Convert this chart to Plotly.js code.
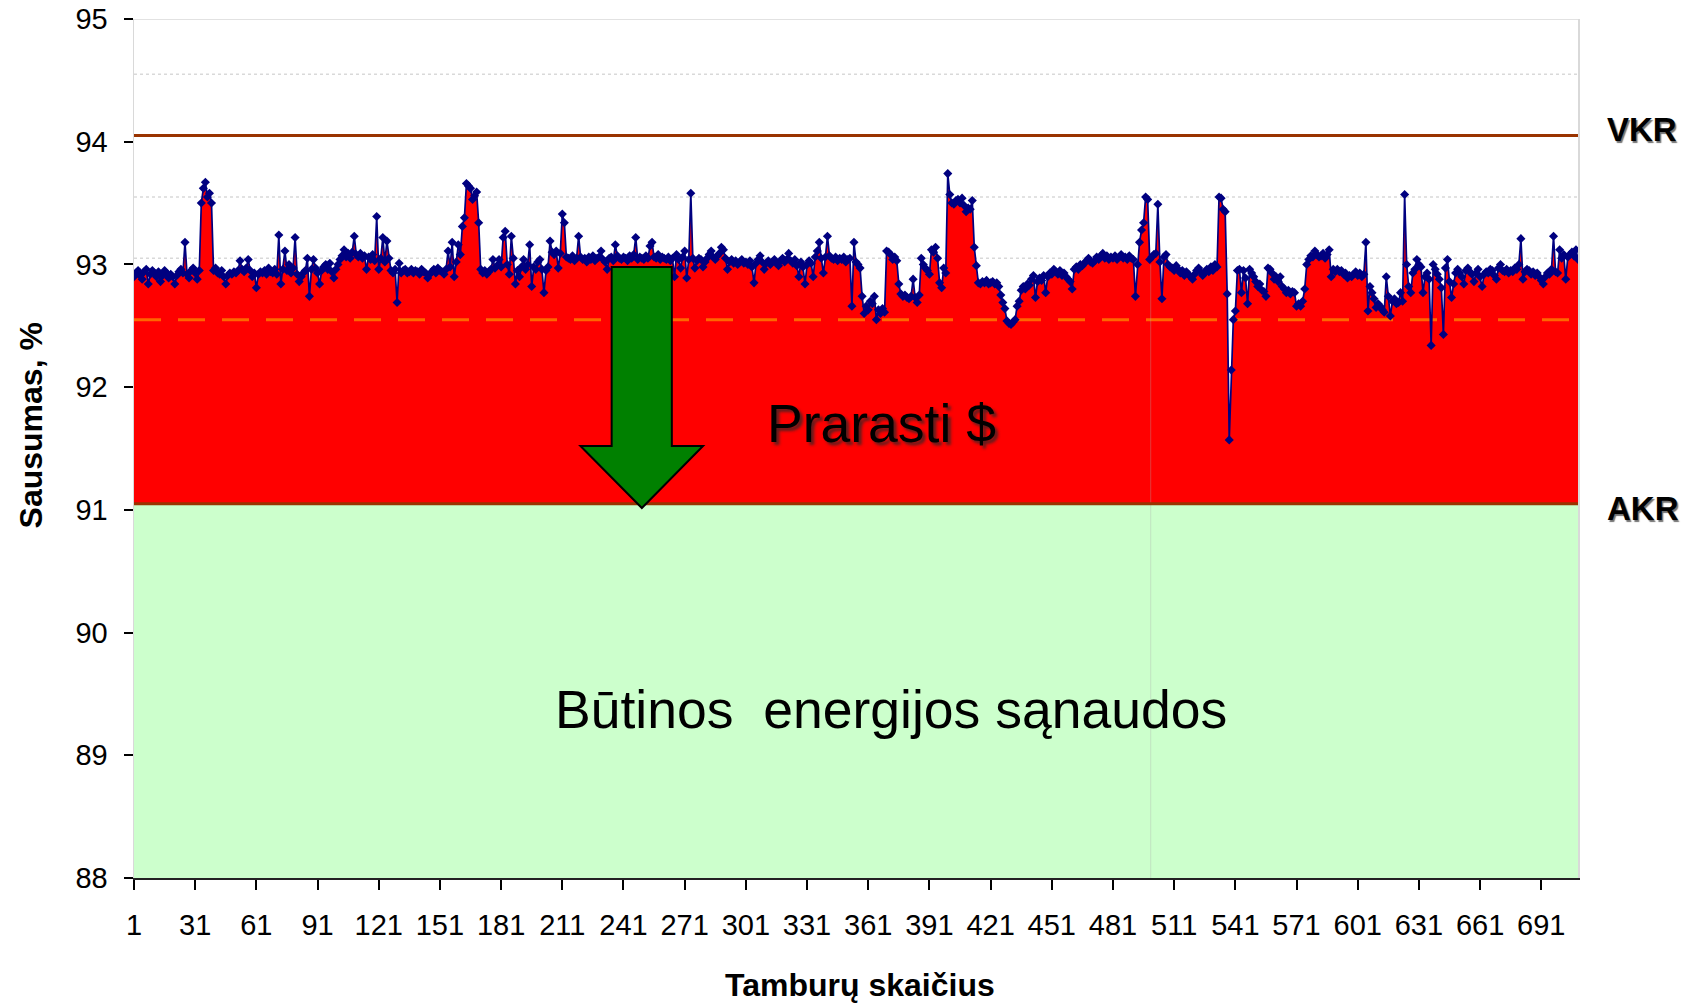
<!DOCTYPE html>
<html>
<head>
<meta charset="utf-8">
<script src="https://cdn.plot.ly/plotly-3.0.1.min.js"></script>
<style>
  html, body { margin: 0; padding: 0; background: #ffffff; }
  #chart { width: 1686px; height: 1005px; }
</style>
</head>
<body>
<div id="chart"></div>
<script>
// ---- data ----
var sausumas = [
  92.90, 92.93, 92.95, 92.91, 92.88, 92.94, 92.96, 92.84, 92.92, 92.95,
  92.93, 92.90, 92.94, 92.86, 92.91, 92.95, 92.93, 92.89, 92.92, 92.90,
  92.84, 92.91, 92.94, 92.96, 92.93, 93.18, 92.92, 92.89, 92.95, 92.97,
  92.93, 92.88, 92.95, 93.50, 93.62, 93.67, 93.55, 93.58, 93.50, 92.95,
  92.97, 92.93, 92.92, 92.95, 92.90, 92.84, 92.91, 92.93, 92.92, 92.94,
  92.93, 92.95, 93.03, 92.96, 92.94, 92.97, 93.04, 92.95, 92.90, 92.93,
  92.81, 92.92, 92.94, 92.93, 92.95, 92.92, 92.97, 92.94, 92.93, 92.96,
  92.92, 93.24, 92.84, 92.96, 93.11, 92.95, 93.00, 92.93, 92.97, 93.22,
  92.92, 92.86, 92.90, 92.93, 92.95, 93.05, 92.74, 92.96, 93.04, 92.97,
  92.93, 92.84, 92.95, 92.98, 93.00, 92.96, 93.01, 92.94, 92.89, 92.96,
  93.00, 93.04, 93.07, 93.12, 93.06, 93.09, 93.05, 93.10, 93.23, 93.08,
  93.06, 93.09, 93.05, 93.07, 92.96, 93.06, 93.04, 93.08, 93.03, 93.39,
  92.96, 93.05, 93.22, 93.02, 93.19, 93.05, 92.95, 92.93, 92.96, 92.69,
  93.01, 92.93, 92.95, 92.96, 92.93, 92.94, 92.96, 92.93, 92.95, 92.94,
  92.92, 92.96, 92.94, 92.93, 92.89, 92.92, 92.94, 92.96, 92.93, 92.97,
  92.95, 92.94, 92.92, 92.96, 93.11, 92.98, 93.18, 92.90, 93.02, 93.16,
  93.08, 93.31, 93.38, 93.66, 93.64, 93.62, 93.53, 93.56, 93.59, 93.34,
  92.96, 92.93, 92.95, 92.92, 92.94, 92.96, 93.04, 92.97, 92.99, 93.04,
  92.98, 93.22, 93.27, 93.00, 92.92, 93.23, 93.05, 92.84, 92.95, 92.90,
  92.98, 93.04, 92.96, 93.00, 93.16, 92.82, 92.98, 92.96, 93.02, 93.04,
  92.96, 92.77, 92.95, 92.98, 93.19, 93.10, 93.08, 93.11, 92.97, 93.09,
  93.41, 93.34, 93.06, 93.05, 93.04, 93.07, 93.03, 93.05, 93.23, 93.06,
  93.04, 93.05, 93.02, 93.06, 93.04, 93.07, 93.03, 93.05, 93.06, 93.11,
  93.04, 93.02, 92.96, 93.05, 93.06, 93.03, 93.16, 93.07, 93.05, 93.04,
  93.06, 93.05, 93.03, 93.07, 93.05, 93.08, 93.22, 93.04, 93.06, 93.05,
  93.04, 93.07, 93.05, 93.15, 93.18, 93.06, 93.05, 93.08, 93.04, 93.06,
  93.05, 93.04, 93.06, 93.03, 93.05, 92.90, 93.08, 93.04, 92.97, 93.06,
  93.11, 92.89, 93.04, 93.58, 93.05, 92.97, 93.03, 93.05, 93.04, 92.98,
  93.02, 93.05, 93.08, 93.11, 93.06, 93.04, 93.07, 93.09, 93.14, 93.12,
  93.05, 92.96, 93.02, 93.04, 93.01, 93.03, 93.00, 93.02, 93.04, 93.01,
  93.02, 93.00, 93.03, 92.98, 92.85, 93.01, 93.04, 93.07, 93.02, 92.96,
  93.01, 93.03, 93.00, 93.02, 93.04, 93.01, 92.99, 93.03, 93.05, 93.02,
  93.04, 93.09, 93.03, 93.01, 93.04, 92.99, 92.90, 93.02, 92.98, 92.84,
  93.00, 93.03, 93.01, 92.90, 93.06, 93.11, 93.18, 93.05, 92.93, 93.06,
  93.23, 93.07, 93.05, 93.04, 93.06, 93.03, 93.05, 93.04, 93.06, 93.02,
  93.04, 93.05, 92.66, 93.18, 93.02, 93.00, 92.97, 92.74, 92.60, 92.66,
  92.63, 92.70, 92.68, 92.74, 92.55, 92.63, 92.60, 92.64, 92.61, 93.11,
  93.10, 93.08, 93.04, 93.06, 93.03, 92.84, 92.76, 92.74, 92.75, 92.73,
  92.72, 92.74, 92.88, 92.73, 92.69, 92.75, 93.05, 93.00, 92.97, 92.95,
  92.92, 93.12, 93.10, 93.14, 93.05, 92.85, 92.81, 92.97, 92.93, 93.74,
  93.57, 93.50, 93.49, 93.52, 93.53, 93.50, 93.54, 93.48, 93.43, 93.46,
  93.45, 93.52, 93.14, 92.99, 92.85, 92.84, 92.86, 92.85, 92.87, 92.84,
  92.85, 92.86, 92.84, 92.85, 92.82, 92.75, 92.69, 92.64, 92.54, 92.52,
  92.51, 92.53, 92.55, 92.66, 92.70, 92.79, 92.82, 92.80, 92.84, 92.83,
  92.88, 92.91, 92.73, 92.86, 92.89, 92.87, 92.91, 92.77, 92.90, 92.93,
  92.92, 92.96, 92.94, 92.92, 92.95, 92.91, 92.93, 92.90, 92.88, 92.86,
  92.80, 92.96, 92.98, 92.96, 93.00, 92.99, 93.01, 93.03, 93.05, 93.02,
  93.01, 93.03, 93.06, 93.04, 93.07, 93.09, 93.05, 93.07, 93.04, 93.06,
  93.05, 93.07, 93.04, 93.06, 93.08, 93.05, 93.06, 93.04, 93.07, 93.05,
  93.04, 92.74, 93.00, 93.18, 93.28, 93.34, 93.55, 93.53, 93.04, 93.06,
  93.08, 93.09, 93.49, 93.02, 92.72, 93.06, 93.08, 93.00, 92.98, 92.97,
  92.95, 92.99, 92.96, 92.93, 92.95, 92.91, 92.94, 92.92, 92.90, 92.88,
  92.92, 92.95, 92.97, 92.94, 92.91, 92.93, 92.96, 92.94, 92.98, 92.95,
  93.00, 92.98, 93.55, 93.54, 93.45, 93.43, 92.76, 91.57, 92.14, 92.55,
  92.62, 92.95, 92.96, 92.77, 92.95, 92.89, 92.68, 92.96, 92.93, 92.90,
  92.86, 92.82, 92.84, 92.79, 92.78, 92.74, 92.97, 92.96, 92.93, 92.88,
  92.90, 92.86, 92.90, 92.82, 92.80, 92.77, 92.79, 92.76, 92.78, 92.77,
  92.66, 92.68, 92.66, 92.70, 92.80, 93.00, 93.04, 93.07, 93.06, 93.11,
  93.08, 93.06, 93.07, 93.09, 93.05, 93.08, 93.12, 92.90, 92.96, 92.94,
  92.96, 92.94, 92.95, 92.92, 92.93, 92.89, 92.91, 92.90, 92.92, 92.94,
  92.91, 92.93, 92.90, 92.92, 93.18, 92.62, 92.82, 92.77, 92.72, 92.65,
  92.68, 92.66, 92.63, 92.61, 92.90, 92.74, 92.58, 92.70, 92.72, 92.68,
  92.69, 92.77, 92.70, 93.57, 93.00, 92.82, 92.77, 92.93, 92.96, 93.04,
  93.00, 92.98, 92.77, 92.90, 92.93, 92.88, 92.34, 93.00, 92.96, 92.92,
  92.88, 92.81, 92.43, 92.97, 93.04, 92.86, 92.73, 92.84, 92.93, 92.96,
  92.93, 92.90, 92.84, 92.95, 92.97, 92.94, 92.92, 92.86, 92.93, 92.96,
  92.90, 92.82, 92.92, 92.94, 92.93, 92.96, 92.95, 92.91, 92.88, 92.97,
  93.00, 92.95, 92.94, 92.96, 92.93, 92.95, 92.94, 92.97, 92.96, 93.00,
  93.21, 92.88, 92.94, 92.96, 92.95, 92.92, 92.94, 92.91, 92.93, 92.90,
  92.87, 92.84, 92.90, 92.93, 92.92, 92.96, 93.23, 92.94, 92.93, 93.12,
  93.05, 93.08, 92.88, 93.06, 93.08, 93.10, 93.07, 93.12, 93.04
];
var xTickLabels = [1, 31, 61, 91, 121, 151, 181, 211, 241, 271, 301, 331, 361, 391, 421, 451, 481, 511, 541, 571, 601, 631, 661, 691];
var yTickLabels = [88, 89, 90, 91, 92, 93, 94, 95];
var limitVKR = 94.05;
var limitAKR = 91.05;
var targetLine = 92.55;
var gridLevels = [94.55, 93.55, 93.05];
// green arrow outline (x = tambūro nr., y = sausumas)
var arrowX = [235.2, 264.7, 264.7, 280.0, 250.0, 219.9, 235.2];
var arrowY = [92.98, 92.98, 91.52, 91.52, 91.015, 91.52, 91.52];

// ---- build ----
var tamburai = [];
for (var i = 0; i < sausumas.length; i++) tamburai.push(i + 1);
var xFirst = 1, xLast = sausumas.length;

var FONT = 'Liberation Sans, Arial, Helvetica, sans-serif';

var traces = [
  { // green "required energy" zone under AKR
    x: [xFirst, xLast], y: [limitAKR, limitAKR],
    mode: 'lines', line: {width: 0, color: '#CCFFCC'},
    fill: 'tozeroy', fillcolor: '#CCFFCC', hoverinfo: 'skip', showlegend: false
  },
  { // red "lost money" zone between AKR and measured dryness
    x: tamburai, y: sausumas,
    mode: 'lines', line: {width: 0, color: '#FF0000'},
    fill: 'tonexty', fillcolor: '#FF0000', hoverinfo: 'skip', showlegend: false
  },
  { // orange dashed target line
    x: [xFirst, xLast], y: [targetLine, targetLine],
    mode: 'lines', line: {color: '#FF6600', width: 3, dash: '27px,17px'},
    hoverinfo: 'skip', showlegend: false
  },
  { // measured series
    x: tamburai, y: sausumas,
    mode: 'lines+markers',
    line: {color: '#000080', width: 1.7},
    marker: {symbol: 'diamond', size: 7, color: '#000080', line: {width: 0}},
    showlegend: false
  }
];

var shapes = [];
gridLevels.forEach(function (g) {
  shapes.push({type: 'line', xref: 'x', yref: 'y', x0: xFirst, x1: xLast, y0: g, y1: g,
    line: {color: '#d9d9d9', width: 1.5, dash: 'dot'}, layer: 'below'});
});
shapes.push({type: 'line', xref: 'x', yref: 'y', x0: xFirst, x1: xLast, y0: 95, y1: 95,
  line: {color: '#d9d9d9', width: 1.5}, layer: 'below'});
// faint vertical seam
shapes.push({type: 'line', xref: 'x', yref: 'y', x0: 499.5, x1: 499.5, y0: 88, y1: 93.0,
  line: {color: 'rgba(170,170,170,0.35)', width: 1}, layer: 'above'});
// limit lines
[limitVKR, limitAKR].forEach(function (v) {
  shapes.push({type: 'line', xref: 'x', yref: 'y', x0: xFirst, x1: xLast, y0: v, y1: v,
    line: {color: '#993300', width: 3}, layer: 'above'});
});
// green arrow
var p = 'M ' + arrowX[0] + ',' + arrowY[0];
for (var k = 1; k < arrowX.length; k++) p += ' L ' + arrowX[k] + ',' + arrowY[k];
p += ' Z';
shapes.push({type: 'path', xref: 'x', yref: 'y', path: p,
  fillcolor: '#008000', line: {color: '#000000', width: 2}, layer: 'above'});

var annotations = [
  {text: 'Prarasti $', xref: 'x', yref: 'y', x: 367.6, y: 91.706, showarrow: false,
   xanchor: 'center', yanchor: 'middle',
   font: {family: FONT, size: 53.5, color: '#000000', shadow: '3px 3px 3px rgba(40,40,40,0.75)'}},
  {text: 'Būtinos\u00A0 energijos sąnaudos', xref: 'x', yref: 'y', x: 372.1, y: 89.376, showarrow: false,
   xanchor: 'center', yanchor: 'middle',
   font: {family: FONT, size: 53.5, color: '#000000'}},
  {text: '<b>VKR</b>', xref: 'paper', yref: 'paper', x: 1.0185, y: 0.8708, showarrow: false,
   xanchor: 'left', yanchor: 'middle',
   font: {family: FONT, size: 33, color: '#000000', shadow: '1.5px 1.5px 1px rgba(0,0,0,0.55)'}},
  {text: '<b>AKR</b>', xref: 'paper', yref: 'paper', x: 1.0185, y: 0.4302, showarrow: false,
   xanchor: 'left', yanchor: 'middle',
   font: {family: FONT, size: 33, color: '#000000', shadow: '1.5px 1.5px 1px rgba(0,0,0,0.55)'}},
  {text: '<b>Sausumas, %</b>', xref: 'paper', yref: 'paper', x: -0.0716, y: 0.5264, showarrow: false,
   xanchor: 'center', yanchor: 'middle', textangle: -90,
   font: {family: FONT, size: 32, color: '#000000'}},
  {text: '<b>Tamburų skaičius</b>', xref: 'paper', yref: 'paper', x: 0.5026, y: -0.1246, showarrow: false,
   xanchor: 'center', yanchor: 'middle',
   font: {family: FONT, size: 32, color: '#000000'}}
];

var layout = {
  width: 1686, height: 1005,
  margin: {l: 134, r: 108, t: 19, b: 127, pad: 0},
  paper_bgcolor: '#ffffff', plot_bgcolor: '#ffffff',
  font: {family: FONT, color: '#000000'},
  showlegend: false,
  xaxis: {
    range: [xFirst, xLast], tickmode: 'array', tickvals: xTickLabels, ticktext: xTickLabels.map(String),
    ticks: 'outside', ticklen: 10, tickwidth: 2, tickcolor: '#000000',
    showline: true, linecolor: '#222222', linewidth: 2,
    showgrid: false, zeroline: false, ticklabelstandoff: 10,
    tickfont: {family: FONT, size: 29, color: '#000000'}
  },
  yaxis: {
    range: [88, 95], tickmode: 'array', tickvals: yTickLabels, ticktext: yTickLabels.map(String),
    ticks: 'outside', ticklen: 9, tickwidth: 2, tickcolor: '#000000',
    showline: true, linecolor: '#d9d9d9', linewidth: 1.5, mirror: true,
    showgrid: false, zeroline: false, ticklabelstandoff: 10,
    tickfont: {family: FONT, size: 29, color: '#000000'}
  },
  shapes: shapes,
  annotations: annotations
};

Plotly.newPlot('chart', traces, layout, {displayModeBar: false, staticPlot: true});
</script>
</body>
</html>
